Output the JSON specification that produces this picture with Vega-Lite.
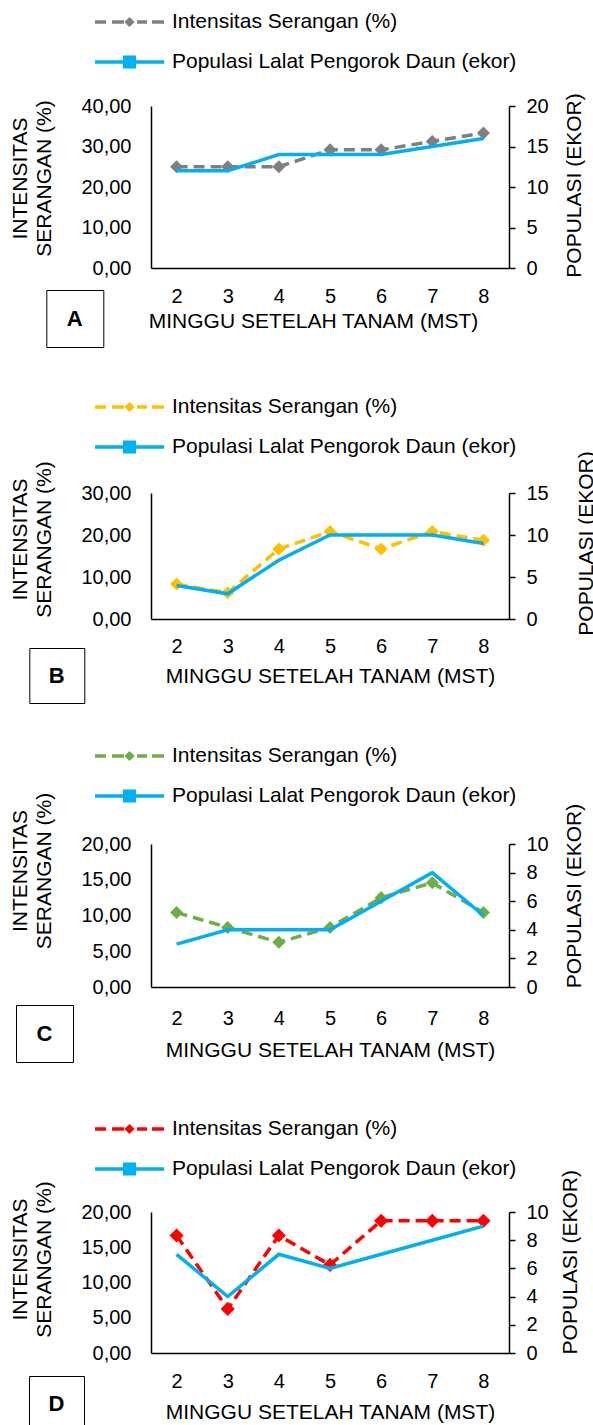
{
  "$schema": "https://vega.github.io/schema/vega-lite/v6.json",
  "autosize": {"type": "pad"},
  "padding": {"left": 8, "top": 3, "right": 0, "bottom": 0},
  "bounds": "flush",
  "spacing": 225,
  "background": "white",
  "data": {"values": [
    {"panel": "A", "mst": 2, "intensitas": 25, "populasi": 12},
    {"panel": "A", "mst": 3, "intensitas": 25, "populasi": 12},
    {"panel": "A", "mst": 4, "intensitas": 25, "populasi": 14},
    {"panel": "A", "mst": 5, "intensitas": 29.17, "populasi": 14},
    {"panel": "A", "mst": 6, "intensitas": 29.17, "populasi": 14},
    {"panel": "A", "mst": 7, "intensitas": 31.25, "populasi": 15},
    {"panel": "A", "mst": 8, "intensitas": 33.33, "populasi": 16},
    {"panel": "B", "mst": 2, "intensitas": 8.33, "populasi": 4},
    {"panel": "B", "mst": 3, "intensitas": 6.25, "populasi": 3},
    {"panel": "B", "mst": 4, "intensitas": 16.67, "populasi": 7},
    {"panel": "B", "mst": 5, "intensitas": 20.83, "populasi": 10},
    {"panel": "B", "mst": 6, "intensitas": 16.67, "populasi": 10},
    {"panel": "B", "mst": 7, "intensitas": 20.83, "populasi": 10},
    {"panel": "B", "mst": 8, "intensitas": 18.75, "populasi": 9},
    {"panel": "C", "mst": 2, "intensitas": 10.42, "populasi": 3},
    {"panel": "C", "mst": 3, "intensitas": 8.33, "populasi": 4},
    {"panel": "C", "mst": 4, "intensitas": 6.25, "populasi": 4},
    {"panel": "C", "mst": 5, "intensitas": 8.33, "populasi": 4},
    {"panel": "C", "mst": 6, "intensitas": 12.5, "populasi": 6},
    {"panel": "C", "mst": 7, "intensitas": 14.58, "populasi": 8},
    {"panel": "C", "mst": 8, "intensitas": 10.42, "populasi": 5},
    {"panel": "D", "mst": 2, "intensitas": 16.67, "populasi": 7},
    {"panel": "D", "mst": 3, "intensitas": 6.25, "populasi": 4},
    {"panel": "D", "mst": 4, "intensitas": 16.67, "populasi": 7},
    {"panel": "D", "mst": 5, "intensitas": 12.5, "populasi": 6},
    {"panel": "D", "mst": 6, "intensitas": 18.75, "populasi": 7},
    {"panel": "D", "mst": 7, "intensitas": 18.75, "populasi": 8},
    {"panel": "D", "mst": 8, "intensitas": 18.75, "populasi": 9}
  ]},
  "vconcat": [
    {
      "width": 358, "height": 162,
      "transform": [{"filter": "datum.panel === 'A'"}],
      "encoding": {"x": {"field": "mst", "type": "ordinal", "scale": {"type": "point", "padding": 0.5},
        "axis": {"title": "MINGGU SETELAH TANAM (MST)", "labelAngle": 0, "ticks": false, "tickSize": 0, "labelPadding": 18, "titleX": 162, "titleY": 53, "titleAlign": "center", "titleBaseline": "middle"}}},
      "layer": [
        {"mark": {"type": "line", "strokeDash": [11, 6], "strokeWidth": 3.5, "point": {"shape": "diamond", "size": 170, "filled": true, "opacity": 1}},
         "encoding": {
           "y": {"field": "intensitas", "type": "quantitative", "scale": {"domain": [0, 40]},
             "axis": {"orient": "left", "values": [0, 10, 20, 30, 40], "title": ["INTENSITAS", "SERANGAN (%)"], "labelExpr": "replace(format(datum.value, '.2f'), '.', ',')", "ticks": false, "tickSize": 0, "labelPadding": 20, "titleAngle": 270, "titleX": -131, "titleY": 72, "titleAlign": "center", "titleBaseline": "middle", "titleLineHeight": 24.7}},
           "color": {"datum": "Intensitas Serangan (%)", "scale": {"domain": ["Intensitas Serangan (%)", "Populasi Lalat Pengorok Daun (ekor)"], "range": ["#7f7f7f", "#00b0f0"]},
             "legend": {"orient": "none", "legendX": -40.5, "legendY": -103, "title": null, "direction": "vertical", "symbolSize": 1190.25, "symbolStrokeWidth": 3.5, "labelFontSize": 21, "labelOffset": 23.5, "labelLimit": 600, "rowPadding": 11,
               "encode": {"symbols": {"update": {
                 "shape": {"signal": "datum.value === 'Intensitas Serangan (%)' ? 'M-2,0H-1.362M-1.014,0H-0.319M0,-0.151L0.151,0L0,0.151L-0.151,0ZM0.435,0H1.014M1.304,0H2' : 'M-2,0H2M-0.278,-0.278H0.278V0.278H-0.278Z'"},
                 "fill": {"signal": "datum.value === 'Intensitas Serangan (%)' ? '#7f7f7f' : '#00b0f0'"},
                 "strokeDash": {"value": [1, 0]}}}}}}
         }},
        {"mark": {"type": "line", "strokeWidth": 3.5},
         "encoding": {
           "y": {"field": "populasi", "type": "quantitative", "scale": {"domain": [0, 20]},
             "axis": {"orient": "right", "values": [0, 5, 10, 15, 20], "title": "POPULASI (EKOR)", "tickSize": 6, "labelPadding": 11, "titleAngle": 270, "titleX": 65, "titleY": 79, "titleAlign": "center", "titleBaseline": "middle"}},
           "color": {"datum": "Populasi Lalat Pengorok Daun (ekor)"}
         }},
        {"mark": {"type": "point", "opacity": 0},
         "encoding": {"shape": {"datum": "A", "legend": {"orient": "none", "legendX": -104.7, "legendY": 184, "title": null, "symbolSize": 841, "symbolStrokeWidth": 0, "symbolOpacity": 0, "labelAlign": "center", "labelOffset": -14.5, "labelFontSize": 22, "labelFontWeight": "bold", "padding": 14, "strokeColor": "black", "encode": {"legend": {"update": {"strokeWidth": {"value": 2}}}}}}}}
      ],
      "resolve": {"scale": {"y": "independent"}}
    },
    {
      "width": 358, "height": 126,
      "transform": [{"filter": "datum.panel === 'B'"}],
      "encoding": {"x": {"field": "mst", "type": "ordinal", "scale": {"type": "point", "padding": 0.5},
        "axis": {"title": "MINGGU SETELAH TANAM (MST)", "labelAngle": 0, "ticks": false, "tickSize": 0, "labelPadding": 17, "titleY": 57.5, "titleAlign": "center", "titleBaseline": "middle"}}},
      "layer": [
        {"mark": {"type": "line", "strokeDash": [11, 6], "strokeWidth": 3.5, "point": {"shape": "diamond", "size": 170, "filled": true, "opacity": 1}},
         "encoding": {
           "y": {"field": "intensitas", "type": "quantitative", "scale": {"domain": [0, 30]},
             "axis": {"orient": "left", "values": [0, 10, 20, 30], "title": ["INTENSITAS", "SERANGAN (%)"], "labelExpr": "replace(format(datum.value, '.2f'), '.', ',')", "ticks": false, "tickSize": 0, "labelPadding": 20, "titleAngle": 270, "titleX": -131, "titleY": 46, "titleAlign": "center", "titleBaseline": "middle", "titleLineHeight": 24.7}},
           "color": {"datum": "Intensitas Serangan (%)", "scale": {"domain": ["Intensitas Serangan (%)", "Populasi Lalat Pengorok Daun (ekor)"], "range": ["#ffc000", "#00b0f0"]},
             "legend": {"orient": "none", "legendX": -40.5, "legendY": -105, "title": null, "direction": "vertical", "symbolSize": 1190.25, "symbolStrokeWidth": 3.5, "labelFontSize": 21, "labelOffset": 23.5, "labelLimit": 600, "rowPadding": 11,
               "encode": {"symbols": {"update": {
                 "shape": {"signal": "datum.value === 'Intensitas Serangan (%)' ? 'M-2,0H-1.362M-1.014,0H-0.319M0,-0.151L0.151,0L0,0.151L-0.151,0ZM0.435,0H1.014M1.304,0H2' : 'M-2,0H2M-0.278,-0.278H0.278V0.278H-0.278Z'"},
                 "fill": {"signal": "datum.value === 'Intensitas Serangan (%)' ? '#ffc000' : '#00b0f0'"},
                 "strokeDash": {"value": [1, 0]}}}}}}
         }},
        {"mark": {"type": "line", "strokeWidth": 3.5},
         "encoding": {
           "y": {"field": "populasi", "type": "quantitative", "scale": {"domain": [0, 15]},
             "axis": {"orient": "right", "values": [0, 5, 10, 15], "title": "POPULASI (EKOR)", "tickSize": 6, "labelPadding": 11, "titleAngle": 270, "titleX": 77, "titleY": 50, "titleAlign": "center", "titleBaseline": "middle"}},
           "color": {"datum": "Populasi Lalat Pengorok Daun (ekor)"}
         }},
        {"mark": {"type": "point", "opacity": 0},
         "encoding": {"shape": {"datum": "B", "legend": {"orient": "none", "legendX": -121.7, "legendY": 155, "title": null, "symbolSize": 729, "symbolStrokeWidth": 0, "symbolOpacity": 0, "labelAlign": "center", "labelOffset": -13.5, "labelFontSize": 22, "labelFontWeight": "bold", "padding": 14, "strokeColor": "black", "encode": {"legend": {"update": {"strokeWidth": {"value": 2}}}}}}}}
      ],
      "resolve": {"scale": {"y": "independent"}}
    },
    {
      "width": 358, "height": 143,
      "transform": [{"filter": "datum.panel === 'C'"}],
      "encoding": {"x": {"field": "mst", "type": "ordinal", "scale": {"type": "point", "padding": 0.5},
        "axis": {"title": "MINGGU SETELAH TANAM (MST)", "labelAngle": 0, "ticks": false, "tickSize": 0, "labelPadding": 21, "titleY": 63, "titleAlign": "center", "titleBaseline": "middle"}}},
      "layer": [
        {"mark": {"type": "line", "strokeDash": [11, 6], "strokeWidth": 3.5, "point": {"shape": "diamond", "size": 170, "filled": true, "opacity": 1}},
         "encoding": {
           "y": {"field": "intensitas", "type": "quantitative", "scale": {"domain": [0, 20]},
             "axis": {"orient": "left", "values": [0, 5, 10, 15, 20], "title": ["INTENSITAS", "SERANGAN (%)"], "labelExpr": "replace(format(datum.value, '.2f'), '.', ',')", "ticks": false, "tickSize": 0, "labelPadding": 20, "titleAngle": 270, "titleX": -131, "titleY": 26.5, "titleAlign": "center", "titleBaseline": "middle", "titleLineHeight": 24.7}},
           "color": {"datum": "Intensitas Serangan (%)", "scale": {"domain": ["Intensitas Serangan (%)", "Populasi Lalat Pengorok Daun (ekor)"], "range": ["#70ad47", "#00b0f0"]},
             "legend": {"orient": "none", "legendX": -40.5, "legendY": -107, "title": null, "direction": "vertical", "symbolSize": 1190.25, "symbolStrokeWidth": 3.5, "labelFontSize": 21, "labelOffset": 23.5, "labelLimit": 600, "rowPadding": 11,
               "encode": {"symbols": {"update": {
                 "shape": {"signal": "datum.value === 'Intensitas Serangan (%)' ? 'M-2,0H-1.362M-1.014,0H-0.319M0,-0.151L0.151,0L0,0.151L-0.151,0ZM0.435,0H1.014M1.304,0H2' : 'M-2,0H2M-0.278,-0.278H0.278V0.278H-0.278Z'"},
                 "fill": {"signal": "datum.value === 'Intensitas Serangan (%)' ? '#70ad47' : '#00b0f0'"},
                 "strokeDash": {"value": [1, 0]}}}}}}
         }},
        {"mark": {"type": "line", "strokeWidth": 3.5},
         "encoding": {
           "y": {"field": "populasi", "type": "quantitative", "scale": {"domain": [0, 10]},
             "axis": {"orient": "right", "values": [0, 2, 4, 6, 8, 10], "title": "POPULASI (EKOR)", "tickSize": 6, "labelPadding": 11, "titleAngle": 270, "titleX": 65, "titleY": 51.5, "titleAlign": "center", "titleBaseline": "middle"}},
           "color": {"datum": "Populasi Lalat Pengorok Daun (ekor)"}
         }},
        {"mark": {"type": "point", "opacity": 0},
         "encoding": {"shape": {"datum": "C", "legend": {"orient": "none", "legendX": -135, "legendY": 161, "title": null, "symbolSize": 841, "symbolStrokeWidth": 0, "symbolOpacity": 0, "labelAlign": "center", "labelOffset": -14.5, "labelFontSize": 22, "labelFontWeight": "bold", "padding": 14, "strokeColor": "black", "encode": {"legend": {"update": {"strokeWidth": {"value": 2}}}}}}}}
      ],
      "resolve": {"scale": {"y": "independent"}}
    },
    {
      "width": 358, "height": 141,
      "transform": [{"filter": "datum.panel === 'D'"}],
      "encoding": {"x": {"field": "mst", "type": "ordinal", "scale": {"type": "point", "padding": 0.5},
        "axis": {"title": "MINGGU SETELAH TANAM (MST)", "labelAngle": 0, "ticks": false, "tickSize": 0, "labelPadding": 18, "titleY": 59, "titleAlign": "center", "titleBaseline": "middle"}}},
      "layer": [
        {"mark": {"type": "line", "strokeDash": [11, 6], "strokeWidth": 3.5, "point": {"shape": "diamond", "size": 200, "filled": true, "opacity": 1}},
         "encoding": {
           "y": {"field": "intensitas", "type": "quantitative", "scale": {"domain": [0, 20]},
             "axis": {"orient": "left", "values": [0, 5, 10, 15, 20], "title": ["INTENSITAS", "SERANGAN (%)"], "labelExpr": "replace(format(datum.value, '.2f'), '.', ',')", "ticks": false, "tickSize": 0, "labelPadding": 20, "titleAngle": 270, "titleX": -131, "titleY": 47, "titleAlign": "center", "titleBaseline": "middle", "titleLineHeight": 24.7}},
           "color": {"datum": "Intensitas Serangan (%)", "scale": {"domain": ["Intensitas Serangan (%)", "Populasi Lalat Pengorok Daun (ekor)"], "range": ["#ff0000", "#00b0f0"]},
             "legend": {"orient": "none", "legendX": -40.5, "legendY": -102, "title": null, "direction": "vertical", "symbolSize": 1190.25, "symbolStrokeWidth": 3.5, "labelFontSize": 21, "labelOffset": 23.5, "labelLimit": 600, "rowPadding": 11,
               "encode": {"symbols": {"update": {
                 "shape": {"signal": "datum.value === 'Intensitas Serangan (%)' ? 'M-2,0H-1.362M-1.014,0H-0.319M0,-0.151L0.151,0L0,0.151L-0.151,0ZM0.435,0H1.014M1.304,0H2' : 'M-2,0H2M-0.278,-0.278H0.278V0.278H-0.278Z'"},
                 "fill": {"signal": "datum.value === 'Intensitas Serangan (%)' ? '#ff0000' : '#00b0f0'"},
                 "strokeDash": {"value": [1, 0]}}}}}}
         }},
        {"mark": {"type": "line", "strokeWidth": 3.5},
         "encoding": {
           "y": {"field": "populasi", "type": "quantitative", "scale": {"domain": [0, 10]},
             "axis": {"orient": "right", "values": [0, 2, 4, 6, 8, 10], "title": "POPULASI (EKOR)", "tickSize": 6, "labelPadding": 11, "titleAngle": 270, "titleX": 61, "titleY": 49.7, "titleAlign": "center", "titleBaseline": "middle"}},
           "color": {"datum": "Populasi Lalat Pengorok Daun (ekor)"}
         }},
        {"mark": {"type": "point", "opacity": 0},
         "encoding": {"shape": {"datum": "D", "legend": {"orient": "none", "legendX": -122, "legendY": 164, "title": null, "symbolSize": 729, "symbolStrokeWidth": 0, "symbolOpacity": 0, "labelAlign": "center", "labelOffset": -13.5, "labelFontSize": 22, "labelFontWeight": "bold", "padding": 14, "strokeColor": "black", "encode": {"legend": {"update": {"strokeWidth": {"value": 2}}}}}}}}
      ],
      "resolve": {"scale": {"y": "independent"}}
    }
  ],
  "resolve": {"scale": {"color": "independent", "shape": "independent"}, "legend": {"color": "independent", "shape": "independent"}},
  "config": {
    "view": {"stroke": null},
    "font": "Liberation Sans",
    "axis": {"grid": false, "domainColor": "black", "domainWidth": 1.5, "tickColor": "black", "tickWidth": 1.5,
      "labelFont": "Liberation Sans", "labelFontSize": 20, "labelColor": "black",
      "titleFont": "Liberation Sans", "titleFontSize": 21, "titleFontWeight": "normal", "titleColor": "black"},
    "legend": {"padding": 0, "labelFont": "Liberation Sans", "labelColor": "black"},
    "line": {"strokeCap": "butt"}
  }
}
